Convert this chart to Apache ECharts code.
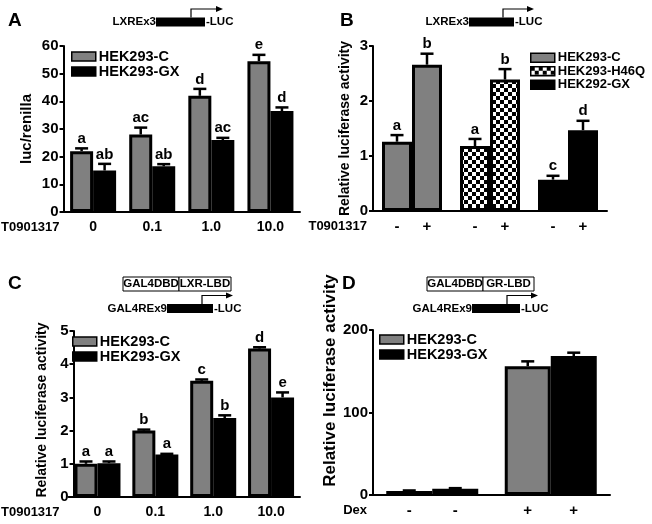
<!DOCTYPE html>
<html><head><meta charset="utf-8">
<script src="https://cdn.jsdelivr.net/npm/echarts@6/dist/echarts.min.js"></script>
<style>html,body{margin:0;padding:0;background:#fff}#c{width:652px;height:524px}</style>
</head><body><div id="c"></div>
<script>
// ---------- data ----------
const doseCats = ['0', '0.1', '1.0', '10.0'];
const aC = [22, 28, 42, 54.5];
const aCErr = [1, 2.5, 2.5, 2.3];
const aCSig = ['a', 'ac', 'd', 'e'];
const aGX = [15, 16.5, 26, 36.5];
const aGXErr = [2.4, 0.8, 0.8, 1.3];
const aGXSig = ['ab', 'ab', 'ac', 'd'];

const bLines = ['HEK293-C', 'HEK293-H46Q', 'HEK292-GX'];
const bTreat = ['-', '+'];
const bMinus = [1.26, 1.18, 0.57];
const bMinusErr = [0.12, 0.13, 0.07];
const bMinusSig = ['a', 'a', 'c'];
const bPlus = [2.66, 2.39, 1.47];
const bPlusErr = [0.2, 0.19, 0.17];
const bPlusSig = ['b', 'b', 'd'];

const cC = [1.0, 2.0, 3.5, 4.47];
const cCErr = [0.07, 0.03, 0.04, 0.04];
const cCSig = ['a', 'b', 'c', 'd'];
const cGX = [1.02, 1.28, 2.38, 3.0];
const cGXErr = [0.05, 0.02, 0.08, 0.15];
const cGXSig = ['a', 'a', 'b', 'e'];

const dexCats = ['-', '+'];
const dC = [5, 156];
const dCErr = [0.5, 6];
const dGX = [7.5, 168.5];
const dGXErr = [0.8, 4];

const seriesNames = ['HEK293-C', 'HEK293-GX'];
const xNameAC = 'T0901317';
const xNameD = 'Dex';

// ---------- style ----------
const FF = '"Liberation Sans", Arial, Helvetica, sans-serif';
const GREY = '#808080';
const pc = document.createElement('canvas');
pc.width = 8; pc.height = 8;
const px = pc.getContext('2d');
px.fillStyle = '#fff'; px.fillRect(0, 0, 8, 8);
px.fillStyle = '#000'; px.fillRect(0, 0, 4, 4); px.fillRect(4, 4, 4, 4);
const CHECK = { image: pc, repeat: 'repeat' };
const fills = [GREY, CHECK, '#000'];

const chart = echarts.init(document.getElementById('c'), null, { renderer: 'canvas' });

function yAx(gi, max, interval, name, gap, nameSize, offset, namePad) {
  return {
    type: 'value', gridIndex: gi, min: 0, max: max, interval: interval, offset: offset || 0,
    name: name, nameLocation: 'middle', nameGap: gap,
    nameTextStyle: { fontFamily: FF, fontWeight: 'bold', fontSize: nameSize, color: '#000', padding: namePad || 0 },
    axisLine: { show: true, lineStyle: { color: '#000', width: 2 } },
    axisTick: { show: true, length: 4, lineStyle: { color: '#000', width: 2 } },
    axisLabel: { fontFamily: FF, fontWeight: 'bold', fontSize: 15, color: '#000', margin: 5 },
    splitLine: { show: false }
  };
}
function xAx(gi, data, name, gap, showLabels) {
  return {
    type: 'category', gridIndex: gi, data: data,
    name: name, nameLocation: 'start', nameGap: gap,
    nameTextStyle: { fontFamily: FF, fontWeight: 'bold', fontSize: 13, color: '#000', align: 'right', verticalAlign: 'top', padding: [9, 0, 0, 0] },
    axisLine: { show: true, lineStyle: { color: '#000', width: 2 } },
    axisTick: { show: false },
    axisLabel: { show: showLabels, fontFamily: FF, fontWeight: 'bold', fontSize: 14, color: '#000', margin: 8 },
    splitLine: { show: false }
  };
}
function bar(name, gi, data, color, bw, stack, labelFn) {
  const s = {
    type: 'bar', name: name, xAxisIndex: gi, yAxisIndex: gi, data: data,
    barWidth: bw, barGap: '0%',
    itemStyle: { color: color, borderColor: '#000', borderWidth: 3 },
    emphasis: { disabled: true }
  };
  if (stack) s.stack = stack;
  if (labelFn) s.label = { show: true, position: 'bottom', distance: 8, formatter: labelFn,
    fontFamily: FF, fontWeight: 'bold', fontSize: 15, color: '#000' };
  return s;
}
function errSeries(gi, items, bw, showSig) {
  return {
    type: 'custom', xAxisIndex: gi, yAxisIndex: gi, z: 5, silent: true, clip: false,
    encode: { x: 0, y: 1 },
    data: items.map(d => [d.cat, d.val, d.err, d.slot]),
    renderItem: function (params, api) {
      const cat = api.value(0), v = api.value(1), e = api.value(2), slot = api.value(3);
      const p0 = api.coord([cat, v]);
      const p1 = api.coord([cat, v + e]);
      const x = p0[0] + (slot - 0.5) * bw;
      const ch = [
        { type: 'line', shape: { x1: x, y1: p0[1], x2: x, y2: p1[1] }, style: { stroke: '#000', lineWidth: 2.5 } },
        { type: 'line', shape: { x1: x - 6.5, y1: p1[1], x2: x + 6.5, y2: p1[1] }, style: { stroke: '#000', lineWidth: 2.5 } }
      ];
      const sig = items[params.dataIndex].sig;
      if (showSig && sig) ch.push({ type: 'text', x: x, y: p1[1] - 2,
        style: { text: sig, textAlign: 'center', textVerticalAlign: 'bottom', fontFamily: FF, fontWeight: 'bold', fontSize: 15, fill: '#000' } });
      return { type: 'group', children: ch };
    }
  };
}
function pairItems(v1, e1, s1, v2, e2, s2) {
  const out = [];
  v1.forEach((v, i) => out.push({ cat: i, val: v, err: e1[i], slot: 0, sig: s1 ? s1[i] : '' }));
  v2.forEach((v, i) => out.push({ cat: i, val: v, err: e2[i], slot: 1, sig: s2 ? s2[i] : '' }));
  return out;
}
function legendAt(left, top, names, fs) {
  return {
    orient: 'vertical', left: left, top: top, itemWidth: 24, itemHeight: 9, itemGap: 0,
    selectedMode: false, data: names, icon: 'rect',
    itemStyle: { borderColor: '#000', borderWidth: 1.5 },
    textStyle: { fontFamily: FF, fontWeight: 'bold', fontSize: fs, color: '#000', lineHeight: 13.5, padding: [0, 0, 0, -2] }
  };
}

// ---------- graphics (panel letters & construct diagrams) ----------
function txt(x, y, t, size, align) {
  return { type: 'text', x: x, y: y, style: { text: t, fontFamily: FF, fontWeight: 'bold', fontSize: size, fill: '#000', textAlign: align || 'left', textVerticalAlign: 'middle' } };
}
function promoter(y, label, bx0, bx1, ax, aEnd) {
  return [
    txt(bx0, y, label, 11.5, 'right'),
    { type: 'rect', shape: { x: bx0, y: y - 4.5, width: bx1 - bx0, height: 9 }, style: { fill: '#000' } },
    txt(bx1 + 1, y, '-LUC', 11.5, 'left'),
    { type: 'polyline', shape: { points: [[ax, y - 4.5], [ax, y - 13], [aEnd - 6, y - 13]] }, style: { stroke: '#000', lineWidth: 1.2, fill: null } },
    { type: 'polygon', shape: { points: [[aEnd - 7, y - 16], [aEnd, y - 13], [aEnd - 7, y - 10]] }, style: { fill: '#000' } }
  ];
}
function boxed(x0, x1, x2, y, t1, t2) {
  return [
    { type: 'rect', shape: { x: x0, y: y - 7, width: x1 - x0, height: 14 }, style: { fill: '#fff', stroke: '#000', lineWidth: 1 } },
    { type: 'rect', shape: { x: x1, y: y - 7, width: x2 - x1, height: 14 }, style: { fill: '#fff', stroke: '#000', lineWidth: 1 } },
    txt((x0 + x1) / 2, y, t1, 11.5, 'center'),
    txt((x1 + x2) / 2, y, t2, 11.5, 'center')
  ];
}
const graphics = [].concat(
  [txt(8, 21, 'A', 19), txt(340, 21, 'B', 19), txt(8, 284, 'C', 19), txt(342, 284, 'D', 19)],
  promoter(22, 'LXREx3', 156, 205, 191, 223),
  promoter(22, 'LXREx3', 469, 514, 503, 534),
  boxed(123, 179, 231, 284, 'GAL4DBD', 'LXR-LBD'),
  promoter(308.5, 'GAL4REx9', 167, 213, 202, 233),
  boxed(427, 483, 534, 284, 'GAL4DBD', 'GR-LBD'),
  promoter(308.5, 'GAL4REx9', 472, 520, 507, 538)
);

// ---------- panel B series ----------
const bSeries = [];
bLines.forEach((ln, i) => {
  const mData = bLines.map((_, j) => j === i ? bMinus[i] : null);
  const pData = bLines.map((_, j) => j === i ? bPlus[i] : null);
  bSeries.push(bar(ln, 1, mData, fills[i], 30, 'minus', () => bTreat[0]));
  bSeries.push(bar(ln, 1, pData, fills[i], 30, 'plus', () => bTreat[1]));
});

const option = {
  animation: false,
  backgroundColor: '#fff',
  grid: [
    { left: 62, top: 46, width: 238, height: 166 },
    { left: 373, top: 46, width: 234, height: 165 },
    { left: 62, top: 331, width: 238, height: 166 },
    { left: 373, top: 330, width: 237, height: 165 }
  ],
  xAxis: [
    xAx(0, doseCats, xNameAC, 4, true),
    xAx(1, bLines, xNameAC, 6, false),
    xAx(2, doseCats, xNameAC, 9, true),
    xAx(3, dexCats, xNameD, 6, false)
  ],
  yAxis: [
    yAx(0, 60, 10, 'luc/renilla', 29, 15),
    yAx(1, 3, 1, 'Relative luciferase activity', 21, 14),
    yAx(2, 5, 1, 'Relative luciferase activity', 24, 14, -5, [0, 0, 0, 8]),
    yAx(3, 200, 100, 'Relative luciferase activity', 27, 17, 0, [0, 0, 0, 64])
  ],
  legend: [
    legendAt(66, 44, seriesNames, 14.5),
    legendAt(525, 46, bLines, 13),
    legendAt(67, 329, seriesNames, 14.5),
    legendAt(374, 327, seriesNames, 14.5)
  ],
  graphic: graphics,
  series: [
    bar(seriesNames[0], 0, aC, GREY, 23),
    bar(seriesNames[1], 0, aGX, '#000', 23),
    errSeries(0, pairItems(aC, aCErr, aCSig, aGX, aGXErr, aGXSig), 23, true),
    ...bSeries,
    errSeries(1, pairItems(bMinus, bMinusErr, bMinusSig, bPlus, bPlusErr, bPlusSig), 30, true),
    bar(seriesNames[0], 2, cC, GREY, 23),
    bar(seriesNames[1], 2, cGX, '#000', 23),
    errSeries(2, pairItems(cC, cCErr, cCSig, cGX, cGXErr, cGXSig), 23, true),
    bar(seriesNames[0], 3, dC, GREY, 46, null, p => p.name),
    bar(seriesNames[1], 3, dGX, '#000', 46, null, p => p.name),
    errSeries(3, pairItems(dC, dCErr, null, dGX, dGXErr, null), 46, false)
  ]
};
chart.setOption(option);
</script></body></html>
